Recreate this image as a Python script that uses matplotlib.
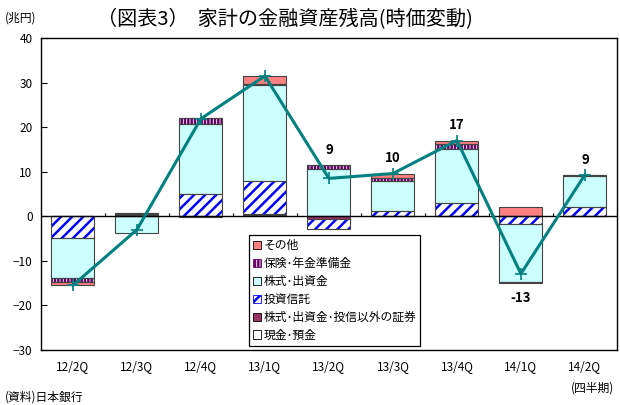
import numpy as np
import matplotlib
matplotlib.use("Agg")
import matplotlib.pyplot as plt
from matplotlib.patches import Patch

plt.rcParams['font.family'] = ['Noto Sans CJK JP', 'DejaVu Sans']
plt.rcParams['hatch.linewidth'] = 1.8

quarters = ['12/2Q', '12/3Q', '12/4Q', '13/1Q', '13/2Q', '13/3Q', '13/4Q', '14/1Q', '14/2Q']

# 兆円
cash      = [0.0, 0.0, 0.0, 0.2, 0.0, 0.0, 0.0, 0.0, 0.0]
other_sec = [0.0, 0.2, -0.2, 0.3, -0.7, 0.0, 0.0, 0.0, 0.0]
inv_trust = [-4.8, 0.2, 4.9, 7.5, -2.2, 1.1, 3.0, -1.8, 2.0]
stocks    = [-9.0, -3.7, 15.9, 21.5, 10.5, 6.8, 12.2, -12.9, 7.0]
insurance = [-0.9, 0.3, 1.3, 0.2, 0.9, 0.8, 1.1, -0.2, 0.3]
others    = [-0.8, 0.0, 0.0, 1.8, 0.0, 0.9, 0.7, 2.0, 0.0]
point_labels = ['', '', '', '', '9', '10', '17', '-13', '9']

series = [
    ('現金･預金', cash, dict(facecolor='white', edgecolor='black', hatch=None)),
    ('株式･出資金･投信以外の証券', other_sec, dict(facecolor='#993366', edgecolor='#993366', hatch=None)),
    ('投資信託', inv_trust, dict(facecolor='white', edgecolor='#0000FF', hatch='///')),
    ('株式･出資金', stocks, dict(facecolor='#CCFFFF', edgecolor='#CCFFFF', hatch=None)),
    ('保険･年金準備金', insurance, dict(facecolor='white', edgecolor='#660066', hatch='|||||')),
    ('その他', others, dict(facecolor='#FF8080', edgecolor='#FF8080', hatch=None)),
]

fig = plt.figure(figsize=(6.2, 4.05), dpi=100)
ax = fig.add_axes([0.066, 0.136, 0.929, 0.770])

x = np.arange(len(quarters))
w = 0.67
pos = np.zeros(len(x))
neg = np.zeros(len(x))
for name, vals, st in series:
    v = np.array(vals)
    bottom = np.where(v >= 0, pos, neg)
    ax.bar(x, v, w, bottom=bottom, linewidth=0, zorder=2, **st)
    ax.bar(x, v, w, bottom=bottom, fill=False, edgecolor='#444444', linewidth=0.8, zorder=3)
    pos = pos + np.where(v > 0, v, 0)
    neg = neg + np.where(v < 0, v, 0)

total = pos + neg
ax.plot(x, total, color='#008080', lw=2.2, marker='+', ms=8, mew=1.2, zorder=5)

for i, lab in enumerate(point_labels):
    if not lab:
        continue
    if total[i] >= 0:
        ax.annotate(lab, (x[i], pos[i]), xytext=(0, 6), textcoords='offset points',
                    ha='center', va='bottom', fontsize=9.5, fontweight='bold')
    else:
        ax.annotate(lab, (x[i], neg[i]), xytext=(0, -6), textcoords='offset points',
                    ha='center', va='top', fontsize=9.5, fontweight='bold')

ax.axhline(0, color='black', lw=1, zorder=4)
ax.vlines(np.arange(len(x) + 1) - 0.5, 0, 0.7, color='black', lw=0.8, zorder=4)

ax.set_xlim(-0.5, len(x) - 0.5)
ax.set_ylim(-30, 40)
ax.set_yticks(range(-30, 41, 10))
ax.tick_params(axis='y', direction='in', length=4, labelsize=8.5, pad=6)
ax.set_xticks(x)
ax.set_xticklabels(quarters, fontsize=8.5)
ax.tick_params(axis='x', length=0, pad=7)
for s in ax.spines.values():
    s.set_linewidth(1)
    s.set_color('black')

handles = [Patch(facecolor=st['facecolor'], edgecolor=st['edgecolor'] if st['hatch'] else 'black',
                 hatch=st['hatch'], linewidth=0.6, label=name) for name, v, st in series]
leg = ax.legend(handles[::-1], [h.get_label() for h in handles[::-1]],
                loc='lower left', bbox_to_anchor=(0.361, 0.013), fontsize=8.5,
                frameon=True, fancybox=False, edgecolor='black', framealpha=1,
                handlelength=0.7, handleheight=0.7, handletextpad=0.2,
                labelspacing=0.42, borderpad=0.35, borderaxespad=0)
leg.get_frame().set_linewidth(0.9)
leg.set_zorder(6)

fig.text(0.46, 0.952, '（図表3）  家計の金融資産残高(時価変動)', ha='center', va='center', fontsize=14.5)
fig.text(0.008, 0.955, '(兆円)', ha='left', va='center', fontsize=8.5)
fig.text(0.008, 0.02, '(資料)日本銀行', ha='left', va='center', fontsize=8.5)
fig.text(0.99, 0.042, '(四半期)', ha='right', va='center', fontsize=8.5)

fig.savefig('out.png', dpi=100)
